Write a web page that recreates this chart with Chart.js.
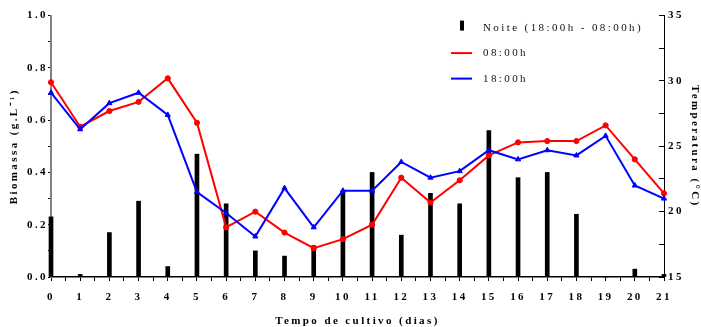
<!DOCTYPE html>
<html>
<head>
<meta charset="utf-8">
<script src="https://cdn.jsdelivr.net/npm/chart.js@4/dist/chart.umd.min.js"></script>
<style>
  html, body { margin: 0; padding: 0; background: #fff; }
  canvas { display: block; }
</style>
</head>
<body>
<canvas id="chart" width="701" height="327"></canvas>
<script>
// Culture days
const days = [0, 1, 2, 3, 4, 5, 6, 7, 8, 9, 10, 11, 12, 13, 14, 15, 16, 17, 18, 19, 20, 21];
// Night biomass (g.L-1), left axis
const noite = [0.23, 0.01, 0.17, 0.29, 0.04, 0.47, 0.28, 0.10, 0.08, 0.12, 0.33,
               0.40, 0.16, 0.32, 0.28, 0.56, 0.38, 0.40, 0.24, 0.00, 0.03, 0.01];
// Temperature at 08:00h (°C), right axis
const temp08 = [29.9, 26.5, 27.7, 28.4, 30.2, 26.8, 18.8, 20.0, 18.4, 17.2, 17.9,
                19.0, 22.6, 20.7, 22.4, 24.3, 25.3, 25.4, 25.4, 26.6, 24.0, 21.4];
// Temperature at 18:00h (°C), right axis
const temp18 = [29.1, 26.3, 28.3, 29.1, 27.4, 21.5, 19.9, 18.1, 21.8, 18.8, 21.6,
                21.6, 23.8, 22.6, 23.1, 24.7, 24.0, 24.7, 24.3, 25.8, 22.0, 21.0];
// Labels
const seriesLabels = ['Noite (18:00h - 08:00h)', '08:00h', '18:00h'];
const xTitle = 'Tempo de cultivo (dias)';
const yTitle = 'Biomassa (g.L\u207B\u00B9)';
const y2Title = 'Temperatura (\u00B0C)';

const serif = "'Liberation Serif', 'Times New Roman', serif";
const pts = arr => arr.map((v, i) => ({ x: days[i], y: v }));

// Spaced-out lettering for all canvas text
const letterSpacing = {
  id: 'letterSpacing',
  beforeDraw(chart) { chart.ctx.letterSpacing = '2.4px'; }
};

// Vertical legend placed in the upper right of the plot area
const insideLegend = {
  id: 'insideLegend',
  afterDraw(chart) {
    const ctx = chart.ctx;
    const a = chart.chartArea;
    const ds = chart.data.datasets;
    const x0 = a.right - 213;
    const textX = a.right - 181;
    const rows = [a.top + 12, a.top + 37.5, a.top + 63];
    ctx.save();
    ctx.letterSpacing = '2.4px';
    ctx.font = '11px ' + serif;
    ctx.textBaseline = 'middle';
    ctx.textAlign = 'left';
    rows.forEach((y, i) => {
      const d = ds[i];
      if (d.type === 'bar') {
        ctx.fillStyle = d.backgroundColor;
        ctx.fillRect(x0 + 9, y - 7, 4, 10);
      } else {
        ctx.strokeStyle = d.borderColor;
        ctx.lineWidth = 2;
        ctx.beginPath();
        ctx.moveTo(x0, y);
        ctx.lineTo(x0 + 21, y);
        ctx.stroke();
      }
      ctx.fillStyle = '#111';
      ctx.fillText(d.label, textX, y + 0.5);
    });
    ctx.restore();
  }
};

const tickFont = { family: serif, size: 11, weight: 'bold' };
const titleFont = { family: serif, size: 11, weight: 'bold' };

new Chart(document.getElementById('chart'), {
  type: 'bar',
  data: {
    datasets: [
      {
        type: 'bar',
        label: seriesLabels[0],
        data: pts(noite),
        yAxisID: 'y',
        backgroundColor: '#000',
        barThickness: 4,
        order: 3,
        clip: false
      },
      {
        type: 'line',
        label: seriesLabels[1],
        data: pts(temp08),
        yAxisID: 'y2',
        borderColor: '#ff0000',
        backgroundColor: '#ff0000',
        borderWidth: 2,
        pointStyle: 'circle',
        pointRadius: 2.6,
        pointBorderWidth: 1,
        tension: 0,
        order: 2,
        clip: false
      },
      {
        type: 'line',
        label: seriesLabels[2],
        data: pts(temp18),
        yAxisID: 'y2',
        borderColor: '#0000ff',
        backgroundColor: '#0000ff',
        borderWidth: 2,
        pointStyle: 'triangle',
        pointRadius: 3,
        pointBorderWidth: 1,
        tension: 0,
        order: 1,
        clip: false
      }
    ]
  },
  options: {
    responsive: false,
    devicePixelRatio: 1,
    animation: false,
    events: [],
    layout: { padding: { top: 12, left: 0, right: 0, bottom: 0 } },
    plugins: {
      legend: { display: false },
      tooltip: { enabled: false }
    },
    scales: {
      x: {
        type: 'linear',
        position: 'bottom',
        offset: false,
        min: 0,
        max: 21,
        afterFit(s) { s.height = 50; },
        ticks: {
          stepSize: 0.5,
          autoSkip: false,
          maxRotation: 0,
          padding: 10,
          color: '#000',
          font: tickFont,
          callback: v => Number.isInteger(v) ? String(v) : ''
        },
        grid: { offset: false, drawOnChartArea: false, drawTicks: true, tickLength: 4, color: '#000', lineWidth: 1 },
        border: { color: '#000', width: 1.5 },
        title: { display: true, text: xTitle, font: titleFont, color: '#000', padding: { top: 0, bottom: -1 } }
      },
      y: {
        type: 'linear',
        position: 'left',
        min: 0,
        max: 1,
        afterFit(s) { s.width = 51; },
        ticks: {
          stepSize: 0.1,
          autoSkip: false,
          padding: 0,
          color: '#000',
          font: tickFont,
          callback: v => {
            const k = Math.round(v * 10);
            return k % 2 === 0 ? (k / 10).toFixed(1) : '';
          }
        },
        grid: { drawOnChartArea: false, drawTicks: true, tickLength: 3, color: '#000', lineWidth: 1 },
        border: { color: '#808080', width: 2 },
        title: { display: true, text: yTitle, font: titleFont, color: '#000', padding: { top: 8, bottom: 0 } }
      },
      y2: {
        type: 'linear',
        position: 'right',
        min: 15,
        max: 35,
        afterFit(s) { s.width = 37; },
        ticks: {
          stepSize: 2.5,
          autoSkip: false,
          padding: 9,
          color: '#000',
          font: tickFont,
          callback: v => v % 5 === 0 ? String(v) : ''
        },
        grid: { drawOnChartArea: false, drawTicks: true, tickLength: -5, color: '#000', lineWidth: 1 },
        border: { color: '#000', width: 1 },
        title: { display: true, text: y2Title, font: titleFont, color: '#000', padding: { top: 0, bottom: 0 } }
      }
    }
  },
  plugins: [letterSpacing, insideLegend]
});
</script>
</body>
</html>
